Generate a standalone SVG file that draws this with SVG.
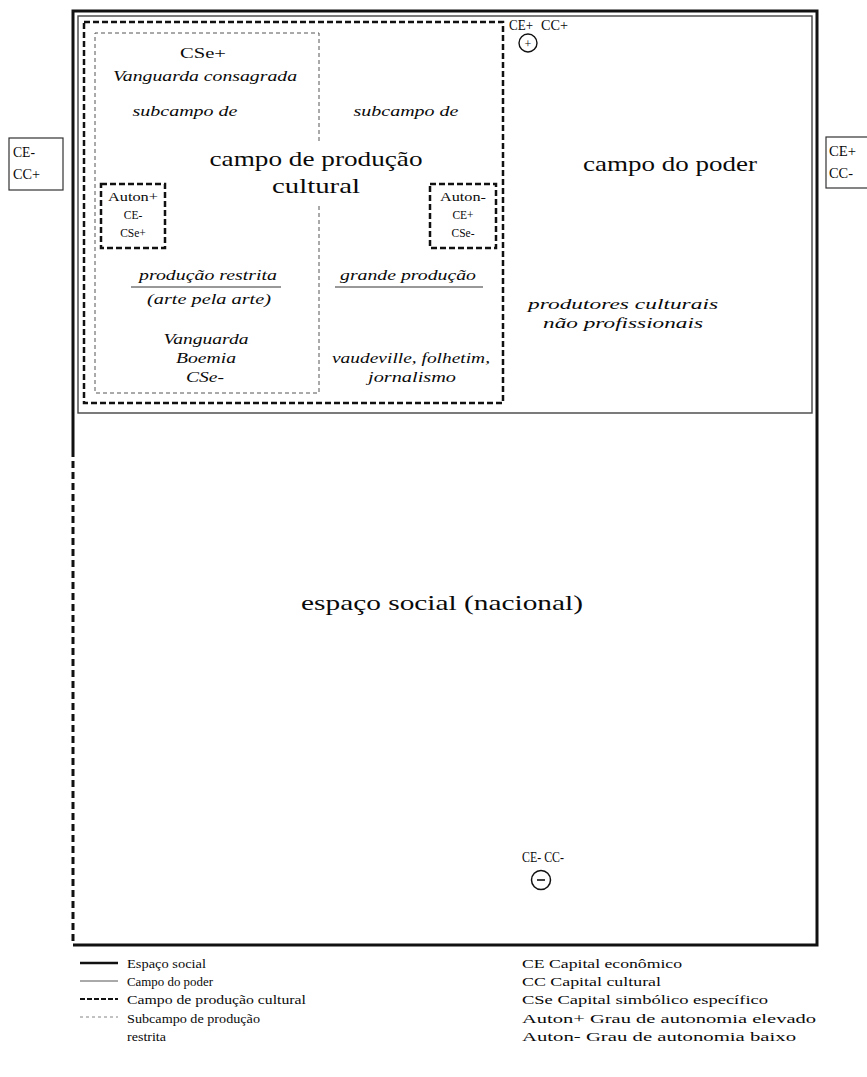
<svg xmlns="http://www.w3.org/2000/svg" width="867" height="1077" viewBox="0 0 867 1077">
<style>
.t{font-family:"Liberation Serif","Times New Roman",serif;fill:#0a0a0a}
.i{font-style:italic}
.c{text-anchor:middle}
.thick{fill:none;stroke:#111;stroke-width:3}
.thin{fill:none;stroke:#444;stroke-width:1.4}
.dash{fill:none;stroke:#111;stroke-width:2.5;stroke-dasharray:6 3}
.sdash{fill:none;stroke:#555;stroke-width:1;stroke-dasharray:4 3}
.box{fill:none;stroke:#333;stroke-width:1.2}
</style>
<rect width="867" height="1077" fill="#fff"/>

<g id="espaco-social">
<path class="thick" d="M73,450 L73,11 L817,11 L817,945 L73,945"/>
<path class="thick" d="M73,450 L73,945" style="stroke-dasharray:7 4"/>
<text class="t c" x="442" y="610" font-size="22" textLength="282" lengthAdjust="spacingAndGlyphs">espaço social (nacional)</text>
<text class="t c" x="543" y="862" font-size="14" textLength="42" lengthAdjust="spacingAndGlyphs">CE- CC-</text>
<circle cx="541" cy="880" r="9.5" fill="none" stroke="#111" stroke-width="1.5"/>
<line x1="537" y1="880" x2="545" y2="880" stroke="#111" stroke-width="1.6"/>
</g>

<g id="campo-do-poder">
<rect class="thin" x="78" y="16" width="734" height="397"/>
<text class="t c" x="670" y="171" font-size="22" textLength="174" lengthAdjust="spacingAndGlyphs">campo do poder</text>
<text class="t c i" x="623" y="309" font-size="15.5" textLength="190" lengthAdjust="spacingAndGlyphs">produtores culturais</text>
<text class="t c i" x="623" y="328" font-size="15.5" textLength="160" lengthAdjust="spacingAndGlyphs">não profissionais</text>
<text class="t" x="509" y="30" font-size="14" textLength="24" lengthAdjust="spacingAndGlyphs">CE+</text>
<text class="t" x="541" y="30" font-size="14" textLength="27" lengthAdjust="spacingAndGlyphs">CC+</text>
<circle cx="528" cy="43" r="9" fill="none" stroke="#111" stroke-width="1.4"/>
<text class="t c" x="528" y="47.5" font-size="12">+</text>
</g>

<g id="campo-producao-cultural">
<rect class="dash" x="84" y="22" width="419" height="381"/>
<text class="t c" x="316" y="166" font-size="22" textLength="213" lengthAdjust="spacingAndGlyphs">campo de produção</text>
<text class="t c" x="316" y="193" font-size="22" textLength="88" lengthAdjust="spacingAndGlyphs">cultural</text>
<text class="t c i" x="406" y="116" font-size="14.5" textLength="105" lengthAdjust="spacingAndGlyphs">subcampo de</text>
<text class="t c i" x="408" y="280" font-size="15.5" textLength="136" lengthAdjust="spacingAndGlyphs">grande produção</text>
<line x1="335" y1="287" x2="483" y2="287" stroke="#333" stroke-width="1"/>
<text class="t c i" x="411" y="363" font-size="15.5" textLength="158" lengthAdjust="spacingAndGlyphs">vaudeville, folhetim,</text>
<text class="t c i" x="412" y="382" font-size="15.5" textLength="88" lengthAdjust="spacingAndGlyphs">jornalismo</text>
</g>

<g id="subcampo-producao-restrita">
<path class="sdash" d="M319,141 L319,33 L95,33 L95,393 L319,393 L319,203"/>
<text class="t c" x="203" y="58" font-size="15" textLength="46" lengthAdjust="spacingAndGlyphs">CSe+</text>
<text class="t c i" x="205" y="81" font-size="14.5" textLength="184" lengthAdjust="spacingAndGlyphs">Vanguarda consagrada</text>
<text class="t c i" x="185" y="116" font-size="14.5" textLength="105" lengthAdjust="spacingAndGlyphs">subcampo de</text>
<text class="t c i" x="208" y="280" font-size="15.5" textLength="138" lengthAdjust="spacingAndGlyphs">produção restrita</text>
<line x1="131" y1="287" x2="281" y2="287" stroke="#333" stroke-width="1"/>
<text class="t c i" x="209" y="304" font-size="15.5" textLength="124" lengthAdjust="spacingAndGlyphs">(arte pela arte)</text>
<text class="t c i" x="206" y="344" font-size="15.5" textLength="85" lengthAdjust="spacingAndGlyphs">Vanguarda</text>
<text class="t c i" x="206" y="363" font-size="15.5" textLength="60" lengthAdjust="spacingAndGlyphs">Boemia</text>
<text class="t c i" x="205" y="382" font-size="15.5" textLength="38" lengthAdjust="spacingAndGlyphs">CSe-</text>
</g>

<g id="auton-plus">
<rect class="dash" x="101" y="184" width="64" height="64"/>
<text class="t c" x="133" y="201" font-size="11.5" textLength="50" lengthAdjust="spacingAndGlyphs">Auton+</text>
<text class="t c" x="133" y="219" font-size="11.5">CE-</text>
<text class="t c" x="133" y="237" font-size="11.5">CSe+</text>
</g>

<g id="auton-minus">
<rect class="dash" x="430" y="184" width="66" height="64"/>
<text class="t c" x="463" y="201" font-size="11.5" textLength="46" lengthAdjust="spacingAndGlyphs">Auton-</text>
<text class="t c" x="463" y="219" font-size="11.5">CE+</text>
<text class="t c" x="463" y="237" font-size="11.5">CSe-</text>
</g>

<g id="polo-esquerdo">
<rect class="box" x="9" y="138" width="54" height="52"/>
<text class="t" x="13" y="157" font-size="15" textLength="22" lengthAdjust="spacingAndGlyphs">CE-</text>
<text class="t" x="13" y="179" font-size="15" textLength="27" lengthAdjust="spacingAndGlyphs">CC+</text>
</g>

<g id="polo-direito">
<rect class="box" x="826" y="137" width="50" height="51"/>
<text class="t" x="829" y="156" font-size="15" textLength="27" lengthAdjust="spacingAndGlyphs">CE+</text>
<text class="t" x="829" y="178" font-size="15" textLength="24" lengthAdjust="spacingAndGlyphs">CC-</text>
</g>

<g id="legenda">
<line x1="80" y1="963" x2="118" y2="963" stroke="#111" stroke-width="2.5"/>
<line x1="80" y1="981" x2="118" y2="981" stroke="#555" stroke-width="1"/>
<line x1="80" y1="999" x2="118" y2="999" stroke="#111" stroke-width="2" stroke-dasharray="5 2"/>
<line x1="80" y1="1017" x2="118" y2="1017" stroke="#666" stroke-width="0.8" stroke-dasharray="3 3"/>
<text class="t" x="127" y="968" font-size="13.5" textLength="79" lengthAdjust="spacingAndGlyphs">Espaço social</text>
<text class="t" x="127" y="986" font-size="13.5" textLength="86" lengthAdjust="spacingAndGlyphs">Campo do poder</text>
<text class="t" x="127" y="1004" font-size="13.5" textLength="179" lengthAdjust="spacingAndGlyphs">Campo de produção cultural</text>
<text class="t" x="127" y="1023" font-size="13.5" textLength="133" lengthAdjust="spacingAndGlyphs">Subcampo de produção</text>
<text class="t" x="127" y="1041" font-size="13.5" textLength="39" lengthAdjust="spacingAndGlyphs">restrita</text>
<text class="t" x="522" y="968" font-size="13.5" textLength="160" lengthAdjust="spacingAndGlyphs">CE Capital econômico</text>
<text class="t" x="522" y="986" font-size="13.5" textLength="139" lengthAdjust="spacingAndGlyphs">CC Capital cultural</text>
<text class="t" x="522" y="1004" font-size="13.5" textLength="246" lengthAdjust="spacingAndGlyphs">CSe Capital simbólico específico</text>
<text class="t" x="522" y="1023" font-size="13.5" textLength="294" lengthAdjust="spacingAndGlyphs">Auton+ Grau de autonomia elevado</text>
<text class="t" x="522" y="1041" font-size="13.5" textLength="274" lengthAdjust="spacingAndGlyphs">Auton- Grau de autonomia baixo</text>
</g>
</svg>
